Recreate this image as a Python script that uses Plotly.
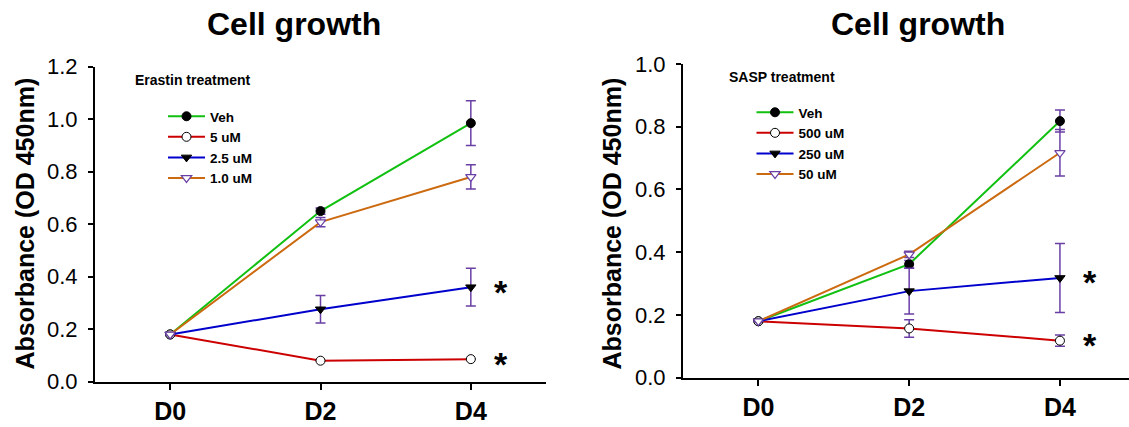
import plotly.graph_objects as go

W, H = 1129, 427

# ---------------- data ----------------
days = [0, 2, 4]
day_labels = ["D0", "D2", "D4"]

# Erastin treatment (left panel)
era_names = ["Veh", "5 uM", "2.5 uM", "1.0 uM"]
era_veh = [0.18, 0.65, 0.985]
era_veh_err = [None, 0.012, 0.085]
era_5 = [0.18, 0.080, 0.086]
era_5_err = [None, None, None]
era_25 = [0.18, 0.276, 0.360]
era_25_err = [None, 0.052, 0.072]
era_10 = [0.18, 0.608, 0.780]
era_10_err = [None, 0.018, 0.046]

# SASP treatment (right panel)
sasp_names = ["Veh", "500 uM", "250 uM", "50 uM"]
sasp_veh = [0.18, 0.362, 0.818]
sasp_veh_err = [None, 0.012, 0.035]
sasp_500 = [0.18, 0.157, 0.118]
sasp_500_err = [None, 0.028, 0.018]
sasp_250 = [0.18, 0.276, 0.318]
sasp_250_err = [None, 0.073, 0.110]
sasp_50 = [0.18, 0.393, 0.717]
sasp_50_err = [None, 0.010, 0.074]

# significance markers ("*") to the right of D4
star_x = 4.4

# ---------------- styles ----------------
FONT = "Arial, Liberation Sans, sans-serif"
GREEN, RED, BLUE, ORANGE = "#11c011", "#cc0000", "#0000cc", "#cc6a10"
ERR = "#6a3fa5"
markers = [
    dict(symbol="circle", size=9, color="black", line=dict(color="black", width=1)),
    dict(symbol="circle", size=9, color="white", line=dict(color="black", width=1)),
    dict(symbol="triangle-down", size=9, color="black", line=dict(color="black", width=1)),
    dict(symbol="triangle-down", size=9, color="white", line=dict(color=ERR, width=1.2)),
]
colors = [GREEN, RED, BLUE, ORANGE]

fig = go.Figure()


def add_panel(names, ys, errs, xa, ya, legend):
    for name, y, e, c, m in zip(names, ys, errs, colors, markers):
        fig.add_trace(go.Scatter(
            x=days, y=y, name=name, mode="lines+markers",
            line=dict(color=c, width=2), marker=m,
            error_y=dict(type="data", array=e, visible=True, color=ERR,
                         thickness=1.5, width=5),
            xaxis=xa, yaxis=ya, legend=legend, cliponaxis=False,
        ))


add_panel(era_names, [era_veh, era_5, era_25, era_10],
          [era_veh_err, era_5_err, era_25_err, era_10_err], "x", "y", "legend")
add_panel(sasp_names, [sasp_veh, sasp_500, sasp_250, sasp_50],
          [sasp_veh_err, sasp_500_err, sasp_250_err, sasp_50_err], "x2", "y2", "legend2")


def px_x(p):
    return p / W


def px_y(p):
    return (H - p) / H


axis_common = dict(showline=True, linecolor="black", linewidth=2, showgrid=False,
                   zeroline=False, ticks="outside", tickcolor="black", tickwidth=1.5,
                   automargin=False)

xfont = dict(family=FONT, size=25, color="black", weight="bold")
yfont = dict(family=FONT, size=22, color="black")
legfont = dict(family=FONT, size=13.5, color="black", weight="bold")

fig.update_layout(
    width=W, height=H, margin=dict(l=0, r=0, t=0, b=0, autoexpand=False),
    paper_bgcolor="white", plot_bgcolor="white",
    xaxis=dict(domain=[px_x(95), px_x(546)], range=[-1, 5], tickvals=days,
               ticktext=day_labels, ticklen=6, tickfont=xfont, anchor="y",
               ticklabelstandoff=0, **axis_common),
    yaxis=dict(domain=[px_y(381.7), px_y(66.7)], range=[0, 1.2], dtick=0.2,
               tickformat=".1f", ticklen=5, tickfont=yfont, anchor="x",
               ticklabelstandoff=6, **axis_common),
    xaxis2=dict(domain=[px_x(683), 1.0], range=[-1, 4.916], tickvals=days,
                ticktext=day_labels, ticklen=6, tickfont=xfont, anchor="y2",
                ticklabelstandoff=0, **axis_common),
    yaxis2=dict(domain=[px_y(377.7), px_y(64)], range=[0, 1.0], dtick=0.2,
                tickformat=".1f", ticklen=5, tickfont=yfont, anchor="x2",
                ticklabelstandoff=6, **axis_common),
    legend=dict(x=px_x(163), y=px_y(101), xanchor="left", yanchor="top",
                bgcolor="rgba(0,0,0,0)", itemwidth=37, tracegroupgap=0, font=legfont),
    legend2=dict(x=px_x(751.5), y=px_y(97), xanchor="left", yanchor="top",
                 bgcolor="rgba(0,0,0,0)", itemwidth=37, tracegroupgap=0, font=legfont),
    showlegend=True,
)

ann = []
# titles
for xc in (294, 917.5):
    ann.append(dict(text="Cell growth", x=px_x(xc), y=px_y(24), xref="paper", yref="paper",
                    showarrow=False, xanchor="center", yanchor="middle",
                    font=dict(family=FONT, size=32, color="black", weight="bold")))
# y axis titles
for xc in (24, 611):
    ann.append(dict(text="Absorbance (OD 450nm)", x=px_x(xc), y=px_y(223.5), xref="paper",
                    yref="paper", showarrow=False, textangle=-90, xanchor="center",
                    yanchor="middle",
                    font=dict(family=FONT, size=25, color="black", weight="bold")))
# legend titles
ann.append(dict(text="Erastin treatment", x=px_x(133), y=px_y(80), xref="paper", yref="paper",
                showarrow=False, xanchor="left", yanchor="middle",
                font=dict(family=FONT, size=14, color="black", weight="bold")))
ann.append(dict(text="SASP treatment", x=px_x(726.5), y=px_y(76.7), xref="paper", yref="paper",
                showarrow=False, xanchor="left", yanchor="middle",
                font=dict(family=FONT, size=14, color="black", weight="bold")))
# significance stars at D4 of the treated series
for xa, ya, series in (("x", "y", [era_25, era_5]), ("x2", "y2", [sasp_250, sasp_500])):
    for s in series:
        ann.append(dict(text="*", x=star_x, y=s[2], xref=xa, yref=ya, showarrow=False,
                        xanchor="center", yanchor="middle", yshift=-4.5,
                        font=dict(family=FONT, size=34, color="black", weight="bold")))
fig.update_layout(annotations=ann)

fig.write_html("out.html", config={"displayModeBar": False},
               post_script="document.body.style.margin='0';")
